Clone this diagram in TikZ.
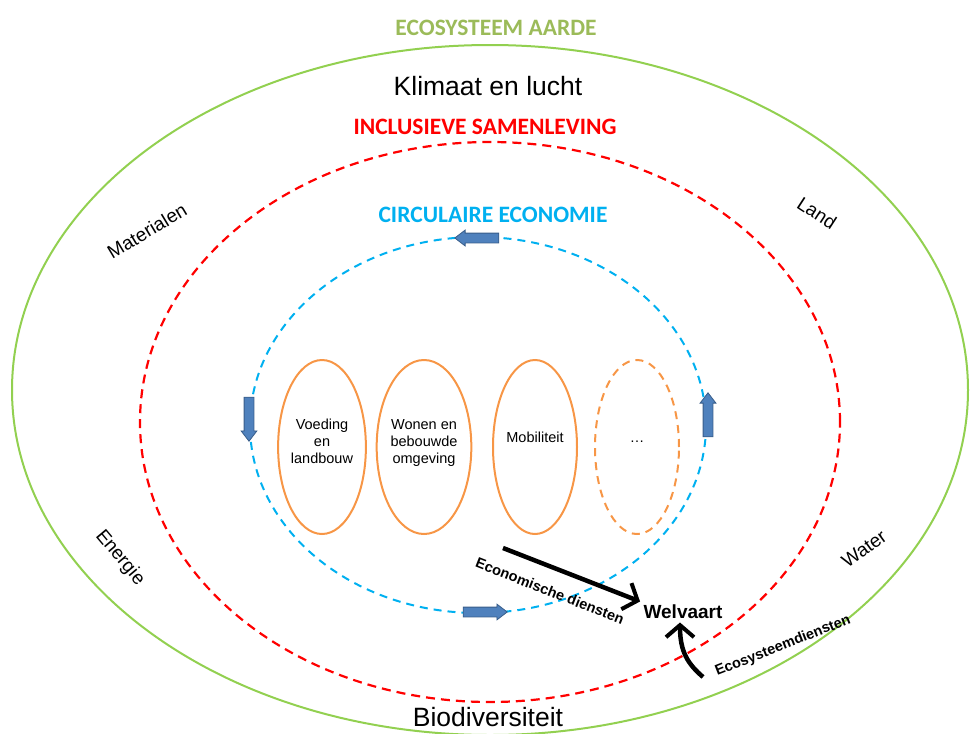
\documentclass[tikz,border=0pt]{standalone}
\usepackage{fontspec}
\setmainfont{Liberation Sans}
\newfontfamily\calibri{Carlito}
\usetikzlibrary{shapes.geometric,shapes.arrows,arrows.meta}

\definecolor{aardegreen}{HTML}{92D050}
\definecolor{titlegreen}{HTML}{9BBB59}
\definecolor{circblue}{HTML}{00B0F0}
\definecolor{sectororange}{HTML}{F79646}
\definecolor{flowblue}{HTML}{4F81BD}
\definecolor{flowborder}{HTML}{385D8A}

\tikzset{
  ring/.style={ellipse, inner sep=0pt},
  sector/.style={ellipse, draw=sectororange, line width=2pt, minimum width=84pt,
    minimum height=174pt, inner sep=0pt, align=center,
    font=\fontsize{14.5}{17}\selectfont},
  flow/.style={single arrow, fill=flowblue, draw=flowborder, line width=0.8pt,
    minimum height=44pt, minimum width=0pt, single arrow head extend=3pt,
    single arrow tip angle=75, inner xsep=0pt, inner ysep=4.5pt},
  title/.style={font=\calibri\bfseries\fontsize{23.5}{26}\selectfont},
  resource/.style={font=\fontsize{19}{22}\selectfont},
  service/.style={font=\bfseries\fontsize{14.5}{17}\selectfont},
  big/.style={font=\fontsize{26.5}{30}\selectfont}
}

\begin{document}
\begin{tikzpicture}[x=1pt,y=-1pt]
  \useasboundingbox (0,0) rectangle (970,734);

  % rings
  \node[ring, draw=aardegreen, line width=2pt, minimum width=956pt, minimum height=690pt] (aarde) at (490,390) {};
  \node[ring, draw=red, line width=2.2pt, dash pattern=on 9pt off 6pt, minimum width=700pt, minimum height=560pt] (samenleving) at (490,422) {};
  \node[ring, draw=circblue, line width=2pt, dash pattern=on 8pt off 6pt, minimum width=456pt, minimum height=376pt] (economie) at (478,425) {};

  % titles
  \node[title, text=titlegreen] (aardetitel) at (496,28) {ECOSYSTEEM AARDE};
  \node[title, text=red] (samentitel) at (485,127) {INCLUSIEVE SAMENLEVING};
  \node[title, text=circblue] (econtitel) at (493,215) {CIRCULAIRE ECONOMIE};
  \node[big] (klimaat) at (488,86) {Klimaat en lucht};
  \node[big] (biodiv) at (488,717) {Biodiversiteit};

  % resources
  \node[resource, rotate=31] (materialen) at (147,231) {Materialen};
  \node[resource, rotate=-33] (land) at (817,213) {Land};
  \node[resource, rotate=-50] (energie) at (120,558) {Energie};
  \node[resource, rotate=36] (water) at (864,549) {Water};

  % sectors
  \node[sector] (voeding) at (322,447) {Voeding\\en\\landbouw\\[-6pt]~};
  \node[sector] (wonen) at (424,447) {Wonen en\\bebouwde\\omgeving\\[-6pt]~};
  \node[sector] (mobiliteit) at (535,447) {Mobiliteit\\[3pt]~};
  \node[sector, dashed, dash pattern=on 8pt off 6pt] (overig) at (637,447) {\dots\\[-6pt]~};

  % circular flow
  \node[flow, rotate=180] (flowtop) at (480,238) {};
  \node[flow, rotate=270] (flowleft) at (249,416) {};
  \node[flow] (flowbottom) at (482,612) {};
  \node[flow, rotate=90] (flowright) at (708,418) {};

  % welvaart
  \node[font=\bfseries\fontsize{19}{22}\selectfont] (welvaart) at (683,612) {Welvaart};
  \coordinate (econtail) at (503,548);
  \coordinate (ecotail) at (703,677);
  \draw[line width=4.5pt, -{Straight Barb[length=12pt,width=28pt,line width=4pt]}]
    (econtail) -- (welvaart.north west);
  \draw[line width=4.5pt, -{Straight Barb[length=12pt,width=28pt,line width=4pt]}]
    (ecotail) .. controls (688,664) and (680,652) .. ([xshift=-3pt]welvaart.south);
  \node[service, rotate=-21.5] (econlabel) at (550,591) {Economische diensten};
  \node[service, rotate=21.5] (ecolabel) at (783,646) {Ecosysteemdiensten};
\end{tikzpicture}
\end{document}
